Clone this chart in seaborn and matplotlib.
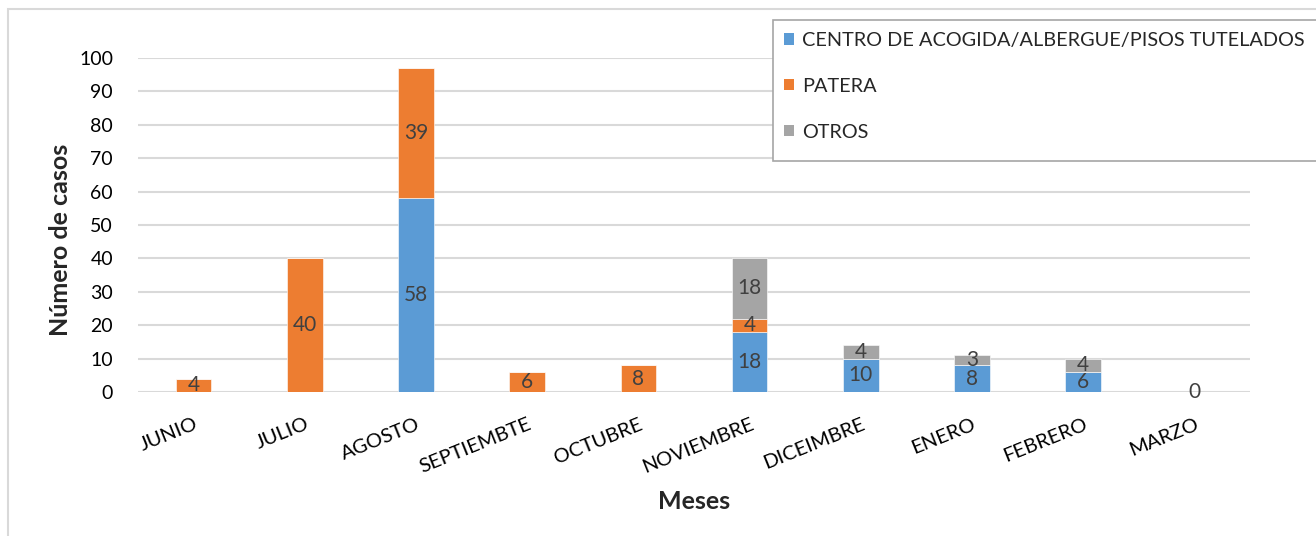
import matplotlib
matplotlib.use("Agg")
import matplotlib.pyplot as plt
from matplotlib.patches import Rectangle, Patch
import seaborn as sns
import numpy as np

months = ["JUNIO", "JULIO", "AGOSTO", "SEPTIEMBTE", "OCTUBRE", "NOVIEMBRE",
          "DICEIMBRE", "ENERO", "FEBRERO", "MARZO"]
centro = [0, 0, 58, 0, 0, 18, 10, 8, 6, 0]
patera = [4, 40, 39, 6, 8, 4, 0, 0, 0, 0]
otros = [0, 0, 0, 0, 0, 18, 4, 3, 4, 0]
series_names = ["CENTRO DE ACOGIDA/ALBERGUE/PISOS TUTELADOS", "PATERA", "OTROS"]
colors = ["#5B9BD5", "#ED7D31", "#A5A5A5"]
yticks = [0, 10, 20, 30, 40, 50, 60, 70, 80, 90, 100]

sns.set_theme(style="white")
plt.rcParams["font.family"] = ["Lato", "DejaVu Sans"]

W, H = 1316, 536
fig = plt.figure(figsize=(W / 100, H / 100), dpi=100)
ax = fig.add_axes([138 / W, 1 - 392 / H, (1250 - 138) / W, (392 - 58) / H])

series = [centro, patera, otros]
bottom = np.zeros(len(months))
for name, vals, col in zip(series_names, series, colors):
    sns.barplot(x=months, y=vals, bottom=bottom, color=col, width=0.32,
                ax=ax, saturation=1, edgecolor="white", linewidth=0.4,
                order=months)
    cont = ax.containers[-1]
    labels = [str(v) if v > 0 else "" for v in vals]
    if name == "OTROS":
        labels = [lab if not (tot == 0) else "0"
                  for lab, tot in zip(labels, bottom + np.array(vals))]
    ax.bar_label(cont, labels=labels, label_type="center", fontsize=15,
                 color="#404040")
    bottom = bottom + np.array(vals)

ax.set_ylim(0, 100)
ax.set_xlim(-0.5, len(months) - 0.5)
ax.set_yticks(yticks)
ax.set_yticklabels([str(t) for t in yticks], fontsize=14, color="black")
ax.yaxis.grid(True, color="#D9D9D9", linewidth=1.5)
ax.set_axisbelow(True)
for s in ax.spines.values():
    s.set_visible(False)
ax.tick_params(axis="y", length=0, pad=18)
ax.tick_params(axis="x", length=0, pad=17)
plt.setp(ax.get_xticklabels(), rotation=22, ha="right", rotation_mode="anchor",
         fontsize=14.5, color="black")
ax.set_ylabel("Número de casos", fontsize=18, fontweight="bold", va="center")
ax.yaxis.set_label_coords(-0.070, 0.455)
ax.set_xlabel("Meses", fontsize=18, fontweight="bold", labelpad=10)

# outer chart border
fig.patches.append(Rectangle((8 / W, -0.1), 1.2, (1 - 9 / H) + 0.1,
                             transform=fig.transFigure, fill=False,
                             edgecolor="#D9D9D9", linewidth=1.5))
# legend box
fig.patches.append(Rectangle((773 / W, 1 - 161 / H), 1.0, (161 - 20) / H,
                             transform=fig.transFigure, facecolor="white",
                             edgecolor="#A6A6A6", linewidth=1.2, zorder=5))
handles = [Patch(facecolor=c, edgecolor="none") for c in colors]
leg = fig.legend(handles, series_names, loc="upper left",
                 bbox_to_anchor=(776 / W, 1 - 24 / H), frameon=False,
                 fontsize=14.3, handlelength=0.5, handleheight=0.5,
                 handletextpad=0.4, labelspacing=1.45, borderaxespad=0)
leg.set_zorder(6)

fig.savefig("out.png", dpi=100)
